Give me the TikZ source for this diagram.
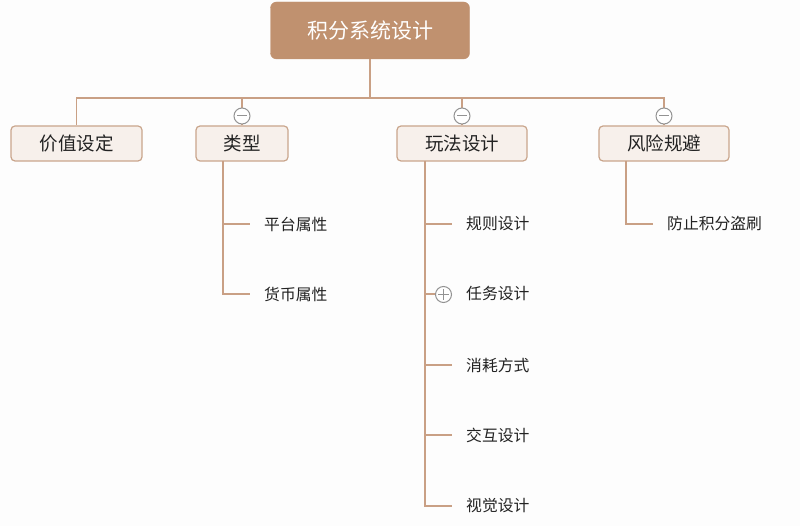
\documentclass[tikz,border=0pt]{standalone}
\usepackage{fontspec}
\setmainfont{Noto Sans CJK SC}
\definecolor{rootfill}{HTML}{C0916F}
\definecolor{lvfill}{HTML}{F7F0EB}
\definecolor{lvdraw}{HTML}{C9A58C}
\definecolor{linec}{HTML}{C9A085}
\definecolor{txt}{HTML}{222222}
\definecolor{bg}{HTML}{FDFDFD}
\begin{document}
\begin{tikzpicture}[x=1pt,y=-1pt,
  rootbox/.style={draw=rootfill,fill=rootfill,rounded corners=6pt,text=white,font=\fontsize{21}{24}\selectfont,inner sep=0pt},
  lvbox/.style={draw=lvdraw,line width=1.2pt,fill=lvfill,rounded corners=4pt,text=txt,font=\fontsize{18.5}{21}\selectfont,inner sep=0pt},
  leaf/.style={text=txt,font=\fontsize{15.8}{18}\selectfont,anchor=west,inner sep=0pt},
  conn/.style={draw=linec,line width=1.3pt},
  tog/.style={circle,draw=gray!85,line width=1pt,fill=white,minimum size=16pt,inner sep=0pt},
  togmark/.style={draw=gray!85,line width=1pt}
]
\fill[bg] (0,0) rectangle (800,526);
\useasboundingbox (0,0) rectangle (800,526);
% root
\node[rootbox,minimum width=199pt,minimum height=57pt] (root) at (370,30.5) {积分系统设计};
% level 1
\node[lvbox,minimum width=131pt,minimum height=35pt] (a) at (76.5,143.5) {价值设定};
\node[lvbox,minimum width=92pt,minimum height=35pt] (b) at (242,143.5) {类型};
\node[lvbox,minimum width=130pt,minimum height=35pt] (c) at (462,143.5) {玩法设计};
\node[lvbox,minimum width=130pt,minimum height=35pt] (d) at (664,143.5) {风险规避};
% bus
\coordinate (j) at (370,98);
\draw[conn] (root.south) -- (j);
\draw[conn] (a.north) -- (a.north |- j) -- (d.north |- j) -- (d.north);
\draw[conn] (b.north) -- (b.north |- j);
\draw[conn] (c.north) -- (c.north |- j);
% toggles
\node[tog] (tb) at (242,116) {};
\node[tog] (tc) at (462,116) {};
\node[tog] (td) at (664,116) {};
\foreach \t in {tb,tc,td}{\draw[togmark] ([xshift=-5pt]\t.center) -- ([xshift=5pt]\t.center);}
% leaves of b
\node[leaf] (b1) at (264,224) {平台属性};
\node[leaf] (b2) at (264,294) {货币属性};
\draw[conn] (223,161) -- (223,294) -- (250,294);
\draw[conn] (223,224) -- (250,224);
% leaves of c
\node[leaf] (c1) at (466,224) {规则设计};
\node[leaf] (c2) at (466,294) {任务设计};
\node[leaf] (c3) at (466,365) {消耗方式};
\node[leaf] (c4) at (466,435) {交互设计};
\node[leaf] (c5) at (466,506) {视觉设计};
\draw[conn] (425,161) -- (425,506) -- (452,506);
\foreach \y in {224,294,365,435}{\draw[conn] (425,\y) -- (452,\y);}
\node[tog] (tc2) at (443.5,294.5) {};
\draw[togmark] ([xshift=-5.5pt]tc2.center) -- ([xshift=5.5pt]tc2.center);
\draw[togmark] ([yshift=-5.5pt]tc2.center) -- ([yshift=5.5pt]tc2.center);
% leaves of d
\node[leaf] (d1) at (667,224) {防止积分盗刷};
\draw[conn] (626,161) -- (626,224) -- (653,224);
\end{tikzpicture}
\end{document}
